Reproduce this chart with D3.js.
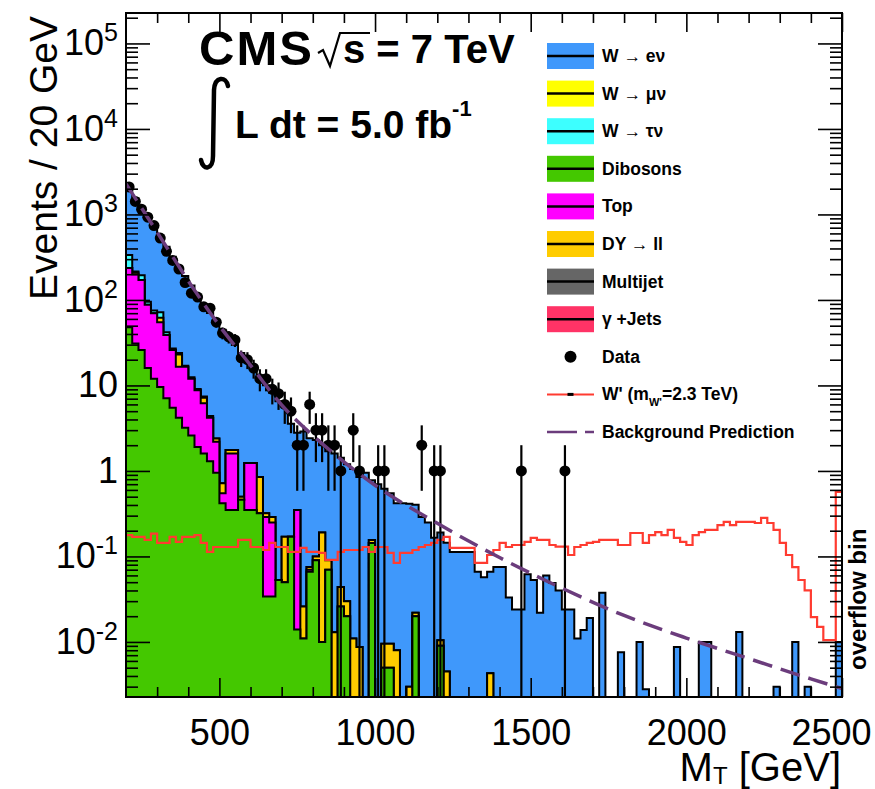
<!DOCTYPE html>
<html>
<head>
<meta charset="utf-8">
<script src="https://cdnjs.cloudflare.com/ajax/libs/d3/7.8.5/d3.min.js"></script>
<style>
  body { margin: 0; background: #fff; }
  svg { display: block; }
  text { font-family: "Liberation Sans", Arial, Helvetica, sans-serif; }
</style>
</head>
<body>
<svg id="chart" width="875" height="789"></svg>
<script>
// 20 GeV bins, lower edges 200 ... 2480
var binLow = d3.range(200, 2500, 20);

// stacked backgrounds, events per bin
var dibosons = [
  48, 31, 26, 16, 12, 9.6, 7.1, 5.5, 4.2, 3.2,
  2.6, 1.9, 1.6, 1.3, 0.95, 0.42, 0.35, 0.35, 0.46, 0.35,
  0.35, 0.32, 0.034, 0.034, 0.053, 0.05, 0.17, 0.014, 0.011, 0.066,
  0.09, 0.01, 0.07, 0, 0.026, 0.02, 0, 0, 0, 0.144,
  0, 0.005, 0.005, 0, 0, 0, 0.02, 0, 0, 0,
  0.009, 0, 0, 0, 0, 0, 0, 0, 0, 0,
  0, 0, 0, 0, 0, 0, 0, 0, 0, 0,
  0, 0, 0, 0, 0, 0, 0, 0, 0, 0,
  0, 0, 0, 0, 0, 0, 0, 0, 0, 0,
  0, 0, 0, 0, 0, 0, 0, 0, 0, 0,
  0, 0, 0, 0, 0, 0, 0, 0, 0, 0,
  0, 0, 0, 0, 0
];
var topQuark = [
  189, 169, 145, 72, 58, 45.4, 31.9, 20.5, 12.3, 13.3,
  9.4, 6.9, 4.6, 2.9, 1.25, 0.13, 1.25, 1.25, 0, 0.89,
  0.89, 0, 0.256, 0.216, 0, 0, 0, 0.336, 0, 0.004,
  0, 0, 0, 0, 0, 0, 0, 0, 0, 0,
  0, 0, 0, 0, 0, 0, 0, 0, 0, 0,
  0, 0, 0, 0, 0, 0, 0, 0, 0, 0,
  0, 0, 0, 0, 0, 0, 0, 0, 0, 0,
  0, 0, 0, 0, 0, 0, 0, 0, 0, 0,
  0, 0, 0, 0, 0, 0, 0, 0, 0, 0,
  0, 0, 0, 0, 0, 0, 0, 0, 0, 0,
  0, 0, 0, 0, 0, 0, 0, 0, 0, 0,
  0, 0, 0, 0, 0
];
var dyll = [
  0, 10, 0, 0, 0, 7, 0, 0, 6.5, 0,
  0, 0, 1.0, 0, 0.2, 0.17, 0.16, 0.16, 0.04, 0,
  0, 0.53, 0.03, 0.04, 0, 0.12, 0, 0, 0.015, 0.005,
  0.01, 0.18, 0.02, 0.013, 0.018, 0.01, 0.011, 0.0087, 0, 0.012,
  0, 0.0045, 0.0045, 0.008, 0, 0.003, 0.002, 0, 0, 0,
  0.0015, 0.0045, 0, 0, 0, 0, 0, 0, 0.0043, 0,
  0, 0, 0, 0, 0, 0, 0, 0, 0, 0,
  0, 0, 0, 0, 0, 0, 0, 0, 0, 0,
  0, 0, 0, 0, 0, 0, 0, 0, 0, 0,
  0, 0, 0, 0, 0, 0, 0, 0, 0, 0,
  0, 0, 0, 0, 0, 0, 0, 0, 0, 0,
  0, 0, 0, 0, 0
];
var wtaunu = [
  99, 5, 24, 7, 5, 10, 3, 1, 1, 0.5,
  0.5, 0.3, 0.2, 0.2, 0, 0, 0, 0, 0, 0,
  0, 0, 0, 0, 0, 0, 0, 0, 0, 0,
  0, 0, 0, 0, 0, 0, 0, 0, 0, 0,
  0, 0, 0, 0, 0, 0, 0, 0, 0, 0,
  0, 0, 0, 0, 0, 0, 0, 0, 0, 0,
  0, 0, 0, 0, 0, 0, 0, 0, 0, 0,
  0, 0, 0, 0, 0, 0, 0, 0, 0, 0,
  0, 0, 0, 0, 0, 0, 0, 0, 0, 0,
  0, 0, 0, 0, 0, 0, 0, 0, 0, 0,
  0, 0, 0, 0, 0, 0, 0, 0, 0, 0,
  0, 0, 0, 0, 0
];
var wenu = [
  1714, 1335, 985, 805, 625, 468, 378, 293, 226, 173,
  135, 104, 81, 66, 54, 44, 35, 28, 23.5, 17.8,
  14.3, 11.7, 9.7, 7.9, 6.5, 5.4, 3.4, 2.45, 2.87, 2.33,
  2.2, 1.81, 1.61, 1.59, 1.38, 1.17, 1.04, 0.84, 0.95, 0.62,
  0.7, 0.61, 0.54, 0.41, 0.42, 0.41, 0.38, 0.29, 0.25, 0.165,
  0.18, 0.14, 0.113, 0.113, 0.113, 0.113, 0.066, 0.057, 0.062, 0.075,
  0.075, 0.033, 0.024, 0.024, 0.062, 0.053, 0.022, 0.06, 0.049, 0.04,
  0.024, 0.024, 0.011, 0.0138, 0.019, 0, 0.0375, 0, 0, 0.0076,
  0, 0, 0.01, 0.0028, 0, 0, 0, 0, 0.0087, 0,
  0, 0, 0.01, 0.01, 0, 0, 0, 0, 0.0131, 0,
  0, 0, 0, 0, 0.003, 0, 0, 0.01, 0, 0.003,
  0, 0, 0, 0, 0.01
];

// observed events per bin
var dataCounts = [
  2100, 1420, 1150, 930, 740, 530, 370, 290, 230, 160,
  120, 108, 83, 80, 55, 41, 37, 34, 21, 20,
  16, 12, 12, 9, 8, 6, 5, 2, 2, 6,
  3, 3, 2, 2, 1, 0, 3, 1, 0, 0,
  1, 1, 0, 0, 0, 0, 0, 2, 0, 1,
  1, 0, 0, 0, 0, 0, 0, 0, 0, 0,
  0, 0, 0, 1, 0, 0, 0, 0, 0, 0,
  1, 0, 0, 0, 0, 0, 0, 0, 0, 0,
  0, 0, 0, 0, 0, 0, 0, 0, 0, 0,
  0, 0, 0, 0, 0, 0, 0, 0, 0, 0,
  0, 0, 0, 0, 0, 0, 0, 0, 0, 0,
  0, 0, 0, 0, 0
];

// W' signal, m = 2.3 TeV (last bin = overflow)
var wprime = [
  0.178, 0.169, 0.169, 0.156, 0.185, 0.144, 0.144, 0.169, 0.148, 0.169,
  0.169, 0.178, 0.144, 0.113, 0.129, 0.129, 0.129, 0.129, 0.156, 0.156,
  0.129, 0.129, 0.119, 0.144, 0.129, 0.129, 0.113, 0.113, 0.126, 0.113,
  0.113, 0.11, 0.091, 0.091, 0.113, 0.119, 0.119, 0.119, 0.129, 0.113,
  0.129, 0.129, 0.11, 0.084, 0.11, 0.11, 0.119, 0.129, 0.136, 0.144,
  0.156, 0.169, 0.126, 0.126, 0.126, 0.126, 0.084, 0.084, 0.104, 0.119,
  0.144, 0.129, 0.136, 0.136, 0.148, 0.165, 0.156, 0.156, 0.136, 0.13,
  0.13, 0.104, 0.129, 0.136, 0.144, 0.148, 0.156, 0.156, 0.156, 0.136,
  0.136, 0.188, 0.188, 0.144, 0.178, 0.193, 0.178, 0.204, 0.165, 0.148,
  0.136, 0.178, 0.193, 0.204, 0.204, 0.233, 0.253, 0.233, 0.253, 0.253,
  0.253, 0.246, 0.282, 0.246, 0.204, 0.144, 0.104, 0.075, 0.053, 0.04,
  0.0195, 0.015, 0.0105, 0.0105, 0.57
];

// background prediction (fit), read at these MT values
var bgMT  = [200, 300, 400, 500, 600, 700, 800, 900, 1000, 1200, 1400, 1600, 1800, 2000, 2200, 2400, 2500];
var bgVal = [2280, 620, 167, 50, 17.2, 5.9, 2.6, 1.28, 0.68, 0.244, 0.097, 0.0426, 0.0204, 0.0111, 0.0064, 0.0037, 0.00285];

var xTicks = [500, 1000, 1500, 2000, 2500];
var yTickExp = [-2, -1, 0, 1, 2, 3, 4, 5];

var legendNames = ["W \u2192 e\u03bd", "W \u2192 \u03bc\u03bd", "W \u2192 \u03c4\u03bd", "Dibosons", "Top", "DY \u2192 ll", "Multijet", "\u03b3 +Jets"];
var legendColors = ["#3f98fb", "#ffff00", "#3dffff", "#44c800", "#ff00ff", "#ffcc00", "#666666", "#ff3366"];

// ---------------------------------------------------------------
var svg = d3.select("#chart");
var frame = {left: 126, right: 842, top: 13, bottom: 697};

var x = d3.scaleLinear().domain([200, 2500]).range([frame.left, frame.right]);
var y = d3.scaleLog().domain([0.00227, 2.27e5]).range([frame.bottom, frame.top]);
var yFloor = y.domain()[0];
var binW = 20;

svg.append("defs").append("clipPath").attr("id", "clip")
  .append("rect").attr("x", frame.left).attr("y", frame.top)
  .attr("width", frame.right - frame.left).attr("height", frame.bottom - frame.top);

var plot = svg.append("g").attr("clip-path", "url(#clip)");

// stack
var rows = binLow.map(function(lo, i) {
  return {lo: lo, dibosons: dibosons[i], top: topQuark[i], dy: dyll[i], wtau: wtaunu[i], wenu: wenu[i]};
});
var keys = ["dibosons", "top", "dy", "wtau", "wenu"];
var keyColor = {dibosons: "#44c800", top: "#ff00ff", dy: "#ffcc00", wtau: "#3dffff", wenu: "#3f98fb"};
var stacked = d3.stack().keys(keys)(rows);

function stepPoints(vals) {
  var pts = binLow.map(function(lo, i) { return {lo: lo, v: vals[i]}; });
  pts.push({lo: 2500, v: vals[vals.length - 1]});
  return pts;
}

var histArea = d3.area()
  .curve(d3.curveStepAfter)
  .x(function(d) { return x(d.lo); })
  .y0(frame.bottom)
  .y1(function(d) { return y(Math.max(d.v, yFloor)); });

// draw from the top of the stack down, like THStack
for (var j = stacked.length - 1; j >= 0; j--) {
  var cum = stacked[j].map(function(d) { return d[1]; });
  plot.append("path")
    .attr("class", "stack_" + keys[j])
    .attr("d", histArea(stepPoints(cum)))
    .attr("fill", keyColor[keys[j]])
    .attr("stroke", "#000")
    .attr("stroke-width", 2);
}

// W' signal
var stepLine = d3.line()
  .curve(d3.curveStepAfter)
  .x(function(d) { return x(d.lo); })
  .y(function(d) { return y(Math.max(d.v, yFloor)); });

plot.append("path")
  .attr("d", stepLine(stepPoints(wprime)))
  .attr("fill", "none")
  .attr("stroke", "#ff3b30")
  .attr("stroke-width", 2.2);

// data
var dataPts = [];
dataCounts.forEach(function(n, i) {
  if (n > 0) dataPts.push({m: binLow[i] + binW / 2, n: n});
});

plot.selectAll(".errbar").data(dataPts).enter().append("line")
  .attr("class", "errbar")
  .attr("x1", function(d) { return x(d.m); })
  .attr("x2", function(d) { return x(d.m); })
  .attr("y1", function(d) { return y(Math.max(d.n - Math.sqrt(d.n), yFloor)); })
  .attr("y2", function(d) { return y(d.n + Math.sqrt(d.n)); })
  .attr("stroke", "#000")
  .attr("stroke-width", 2.2);

plot.selectAll(".dot").data(dataPts).enter().append("circle")
  .attr("class", "dot")
  .attr("cx", function(d) { return x(d.m); })
  .attr("cy", function(d) { return y(d.n); })
  .attr("r", 5.5)
  .attr("fill", "#000");

// background prediction
var bgLine = d3.line()
  .curve(d3.curveMonotoneX)
  .x(function(d) { return x(d[0]); })
  .y(function(d) { return y(d[1]); });

plot.append("path")
  .attr("d", bgLine(bgMT.map(function(m, i) { return [m, bgVal[i]]; })))
  .attr("fill", "none")
  .attr("stroke", "#6b3c7c")
  .attr("stroke-width", 3.5)
  .attr("stroke-dasharray", "20,9");

// ---------------------------------------------------------------
// axes, ticks point inward like ROOT
var yMajor = yTickExp.map(function(e) { return Math.pow(10, e); });
var yMinor = [];
for (var e = -3; e <= 5; e++) {
  for (var k = 2; k <= 9; k++) {
    var v = k * Math.pow(10, e);
    if (v > y.domain()[0] && v < y.domain()[1]) yMinor.push(v);
  }
}
var xMinor = d3.range(300, 2500, 100).filter(function(m) { return m % 500 !== 0; });

function styleAxis(g) {
  g.select(".domain").remove();
  g.selectAll(".tick line").attr("stroke", "#000").attr("stroke-width", 1.6);
}

var fontAxis = "Liberation Sans, Arial, Helvetica, sans-serif";

var yAxisG = svg.append("g")
  .attr("transform", "translate(" + frame.left + ",0)")
  .call(d3.axisLeft(y).tickValues(yMajor).tickSize(-24).tickPadding(8).tickFormat(""));
styleAxis(yAxisG);
yAxisG.attr("font-family", fontAxis).attr("font-size", 36);
yAxisG.selectAll(".tick text").each(function(d, i) {
  var t = d3.select(this);
  var ex = yTickExp[i];
  t.text(null).attr("fill", "#000");
  if (ex === 0) { t.append("tspan").text("1"); }
  else if (ex === 1) { t.append("tspan").text("10"); }
  else {
    t.append("tspan").text("10");
    t.append("tspan").attr("font-size", 25).attr("dy", -14).text(ex);
  }
});

svg.append("g")
  .attr("transform", "translate(" + frame.left + ",0)")
  .call(d3.axisLeft(y).tickValues(yMinor).tickSize(-12).tickFormat(""))
  .call(styleAxis);

svg.append("g")
  .attr("transform", "translate(" + frame.right + ",0)")
  .call(d3.axisRight(y).tickValues(yMajor).tickSize(-24).tickFormat(""))
  .call(styleAxis);
svg.append("g")
  .attr("transform", "translate(" + frame.right + ",0)")
  .call(d3.axisRight(y).tickValues(yMinor).tickSize(-12).tickFormat(""))
  .call(styleAxis);

var xAxisG = svg.append("g")
  .attr("transform", "translate(0," + frame.bottom + ")")
  .call(d3.axisBottom(x).tickValues(xTicks).tickSize(-19).tickPadding(22).tickFormat(d3.format("d")));
styleAxis(xAxisG);
xAxisG.attr("font-family", fontAxis).attr("font-size", 36);
xAxisG.selectAll(".tick text").attr("fill", "#000")
  .attr("dx", function(d) { return d === 2500 ? -11 : 0; });

svg.append("g")
  .attr("transform", "translate(0," + frame.bottom + ")")
  .call(d3.axisBottom(x).tickValues(xMinor).tickSize(-10).tickFormat(""))
  .call(styleAxis);
svg.append("g")
  .attr("transform", "translate(0," + frame.top + ")")
  .call(d3.axisTop(x).tickValues(xTicks).tickSize(-19).tickFormat(""))
  .call(styleAxis);
svg.append("g")
  .attr("transform", "translate(0," + frame.top + ")")
  .call(d3.axisTop(x).tickValues(xMinor).tickSize(-10).tickFormat(""))
  .call(styleAxis);

// frame
svg.append("rect")
  .attr("x", frame.left).attr("y", frame.top)
  .attr("width", frame.right - frame.left).attr("height", frame.bottom - frame.top)
  .attr("fill", "none").attr("stroke", "#000").attr("stroke-width", 2);

// axis titles
svg.append("text")
  .attr("transform", "translate(57,16) rotate(-90)")
  .attr("text-anchor", "end")
  .style("font-size", "39px")
  .text("Events / 20 GeV");

var xt = svg.append("text")
  .attr("x", 841).attr("y", 781)
  .attr("text-anchor", "end")
  .style("font-size", "40px");
xt.append("tspan").text("M");
xt.append("tspan").attr("dy", 3).style("font-size", "24px").text("T");
xt.append("tspan").attr("dy", -3).text(" [GeV]");

svg.append("text")
  .attr("transform", "translate(866,670) rotate(-90)")
  .style("font-size", "24px")
  .style("font-weight", "bold")
  .text("overflow bin");

// CMS label
svg.append("text")
  .attr("x", 199).attr("y", 65)
  .style("font-size", "49px").style("font-weight", "bold")
  .style("letter-spacing", "2px")
  .text("CMS");
svg.append("path")
  .attr("d", "M318,53 L323,50 L330,66 L340,33 L370,33")
  .attr("fill", "none").attr("stroke", "#000").attr("stroke-width", 2.2);
svg.append("text")
  .attr("x", 343).attr("y", 63)
  .style("font-size", "40px").style("font-weight", "bold")
  .text("s = 7 TeV");

svg.append("path")
  .attr("d", "M228,86 C226,76 215,76 214,90 L213,156 C213,170 203,171 201,160")
  .attr("fill", "none").attr("stroke", "#000").attr("stroke-width", 4.5)
  .attr("stroke-linecap", "round");
var lumi = svg.append("text")
  .attr("x", 235).attr("y", 138)
  .style("font-size", "39px").style("font-weight", "bold");
lumi.append("tspan").text("L dt = 5.0 fb");
lumi.append("tspan").attr("dy", -22).style("font-size", "22px").text("-1");

// legend
var legTop = 56, legStep = 37.6, swX = 547, swW = 47, txX = 602;
var leg = svg.append("g").attr("class", "legend");

legendNames.forEach(function(name, i) {
  var cy = legTop + i * legStep;
  leg.append("rect")
    .attr("x", swX).attr("y", cy - 13).attr("width", swW).attr("height", 26)
    .attr("fill", legendColors[i]);
  leg.append("line")
    .attr("x1", swX).attr("x2", swX + swW).attr("y1", cy).attr("y2", cy)
    .attr("stroke", "#000").attr("stroke-width", 2.5);
  leg.append("text")
    .attr("x", txX).attr("y", cy + 6)
    .style("font-size", "17.5px").style("font-weight", "bold")
    .text(name);
});

var cyData = legTop + 8 * legStep;
leg.append("circle").attr("cx", swX + swW / 2).attr("cy", cyData).attr("r", 6).attr("fill", "#000");
leg.append("text").attr("x", txX).attr("y", cyData + 6)
  .style("font-size", "17.5px").style("font-weight", "bold").text("Data");

var cyW = legTop + 9 * legStep;
leg.append("line").attr("x1", swX).attr("x2", swX + swW).attr("y1", cyW).attr("y2", cyW)
  .attr("stroke", "#ff3b30").attr("stroke-width", 2);
leg.append("line").attr("x1", swX + swW / 2 - 3).attr("x2", swX + swW / 2 + 3).attr("y1", cyW).attr("y2", cyW)
  .attr("stroke", "#000").attr("stroke-width", 3);
var wt = leg.append("text").attr("x", txX).attr("y", cyW + 6)
  .style("font-size", "17.5px").style("font-weight", "bold");
wt.append("tspan").text("W' (m");
wt.append("tspan").attr("dy", 6).style("font-size", "11px").text("W'");
wt.append("tspan").attr("dy", -6).text("=2.3 TeV)");

var cyB = legTop + 10 * legStep;
leg.append("line").attr("x1", swX).attr("x2", swX + swW).attr("y1", cyB).attr("y2", cyB)
  .attr("stroke", "#6b3c7c").attr("stroke-width", 2.5).attr("stroke-dasharray", "30,8");
leg.append("text").attr("x", txX).attr("y", cyB + 6)
  .style("font-size", "17.5px").style("font-weight", "bold").text("Background Prediction");
</script>
</body>
</html>
